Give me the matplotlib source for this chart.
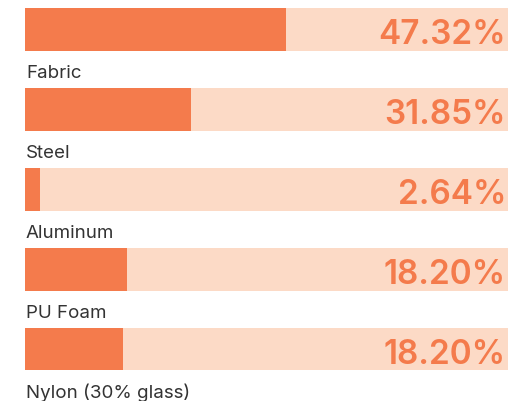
import matplotlib.pyplot as plt

# Materials and their share (labels as printed, fill length as drawn on the track)
materials = ['Fabric', 'Steel', 'Aluminum', 'PU Foam', 'Nylon (30% glass)']
pct_labels = ['47.32%', '31.85%', '2.64%', '18.20%', '18.20%']
fill_pct = [54.0, 34.4, 3.1, 21.1, 20.3]

fill_color = '#F47B4C'
track_color = '#FCDAC6'
text_color = '#333333'

fig = plt.figure(figsize=(5.08, 4.02), dpi=100)
ax = fig.add_axes([25 / 508, 0, 483 / 508, 1])

rows = list(range(len(materials)))
bar_h = 43 / 80

# background track + filled part
ax.barh(rows, [100] * len(rows), height=bar_h, color=track_color, left=0)
ax.barh(rows, fill_pct, height=bar_h, color=fill_color, left=0)

for i, (name, lab) in enumerate(zip(materials, pct_labels)):
    ax.text(99.6, i + 0.17, lab, ha='right', va='baseline', fontsize=24,
            color=fill_color, fontweight='semibold', family=['Inter', 'DejaVu Sans'])
    ax.text(0.2, i + 0.6, name, ha='left', va='baseline', fontsize=13.5,
            color=text_color, family=['Inter', 'DejaVu Sans'], clip_on=False)

ax.set_xlim(0, 100)
ax.set_ylim((402 - 30) / 80, -30 / 80)
ax.axis('off')

plt.savefig('out.png', dpi=100)
